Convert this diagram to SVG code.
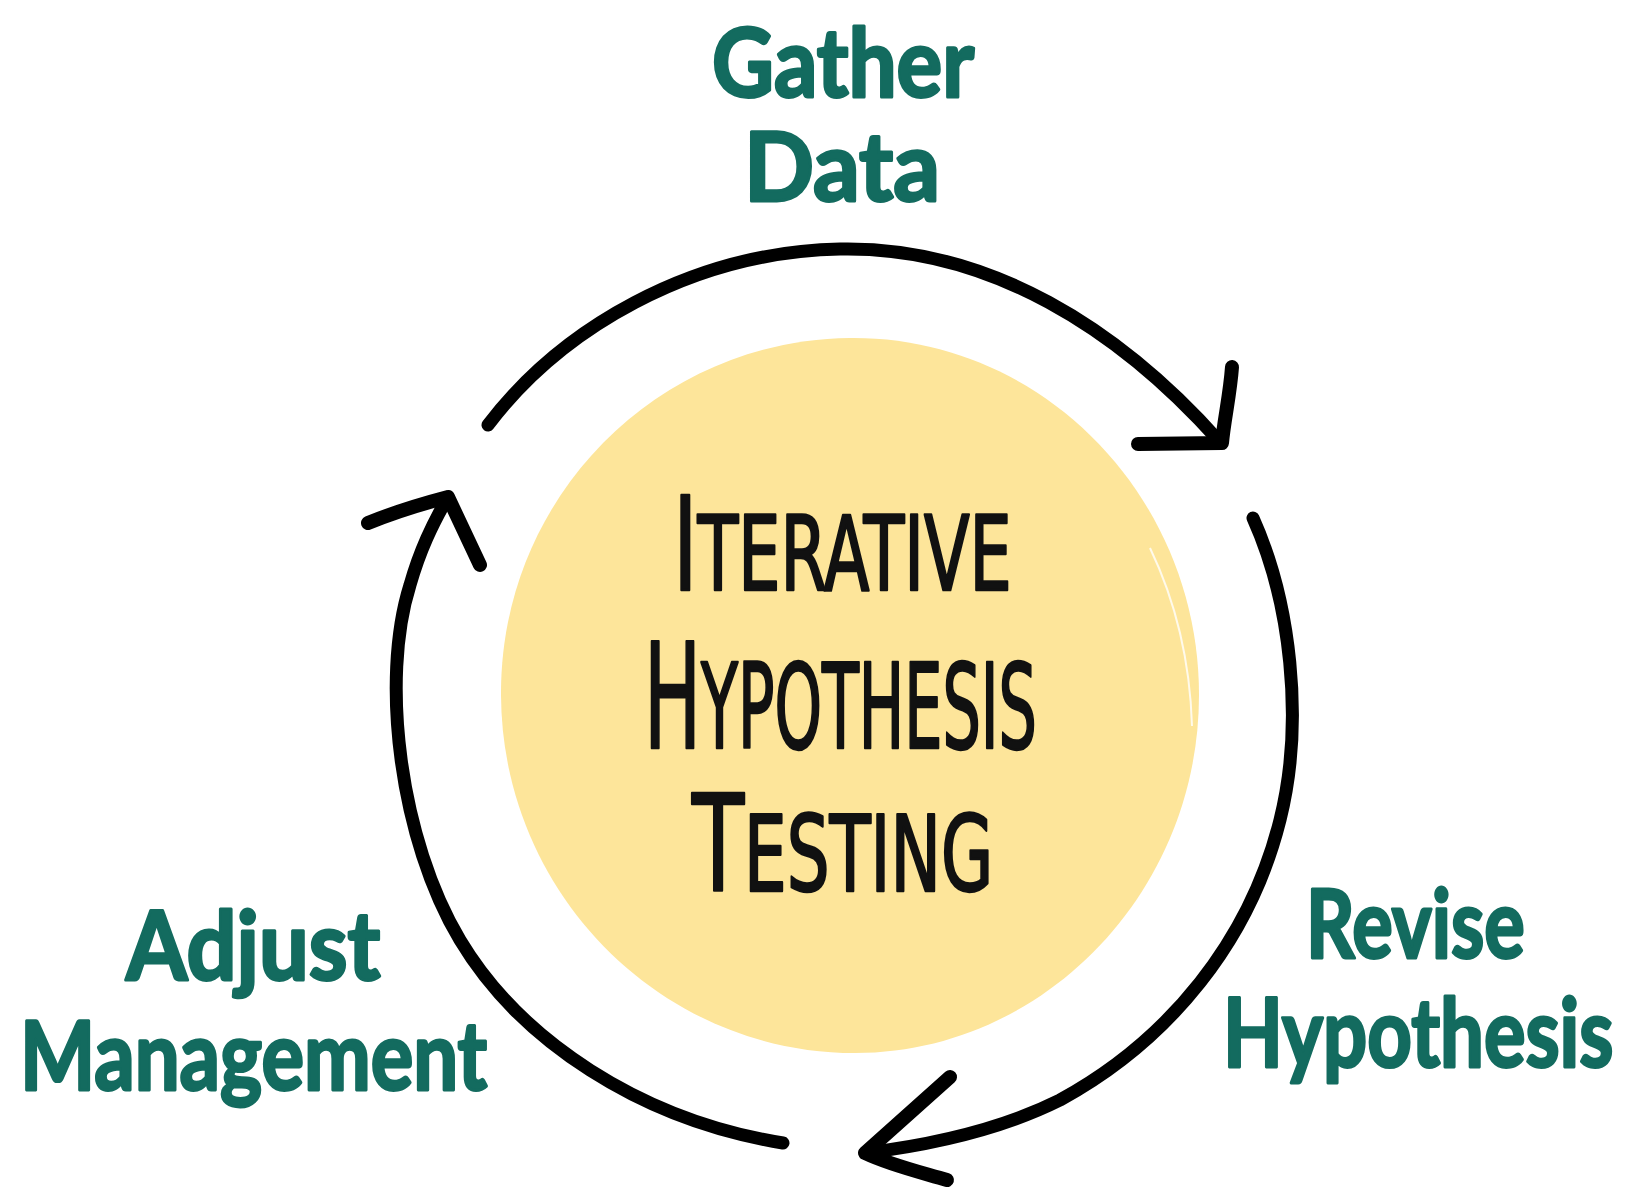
<svg xmlns="http://www.w3.org/2000/svg" width="1627" height="1191" viewBox="0 0 1627 1191">
  <style>
    .label { font-family: "Lato", "Open Sans", "Liberation Sans", sans-serif; font-weight: 700; font-size: 96px; fill: #136b5f; stroke: #136b5f; stroke-width: 3; stroke-linejoin: round; }
    .title { font-family: "DejaVu Sans Condensed", "DejaVu Sans", "Liberation Sans", sans-serif; font-stretch: condensed; fill: #111; stroke: #111; stroke-width: 2.5; stroke-linejoin: round; }
    .arc { fill: none; stroke: #000; stroke-width: 13; stroke-linecap: round; stroke-linejoin: round; }
    .head { fill: none; stroke: #000; stroke-width: 14; stroke-linecap: round; stroke-linejoin: round; }
  </style>

  <rect width="1627" height="1191" fill="#fff"/>

  <!-- central hub: painted yellow disc with the title -->
  <g id="hub">
    <path d="M 850,338 C 1043,336 1199,498 1199,695 C 1199,892 1043,1053 855,1053 C 660,1053 502,892 501,695 C 500,498 657,340 850,338 Z" fill="#fde59a"/>
    <path d="M 1150,548 C 1175,600 1190,660 1192,726" fill="none" stroke="#fff" stroke-width="2" opacity="0.8"/>
    <text class="title" transform="translate(673,590) scale(0.713,1)" font-size="104"><tspan font-size="130">I</tspan>TERATIVE</text>
    <text class="title" transform="translate(644,748) scale(0.574,1)" font-size="117"><tspan font-size="147">H</tspan>YPOTHESIS</text>
    <text class="title" transform="translate(692,891) scale(0.707,1)" font-size="106"><tspan font-size="134">T</tspan>ESTING</text>
  </g>

  <!-- step labels (horizontally condensed) -->
  <g id="gather-data">
    <text class="label" transform="translate(712,97) scale(0.89,1)">Gather</text>
    <text class="label" transform="translate(744,201) scale(0.96,1)">Data</text>
  </g>
  <g id="revise-hypothesis">
    <text class="label" transform="translate(1306,958) scale(0.79,1)">Revise</text>
    <text class="label" transform="translate(1223,1067) scale(0.81,1)">Hypothesis</text>
  </g>
  <g id="adjust-management">
    <text class="label" transform="translate(126,980) scale(0.92,1)">Adjust</text>
    <text class="label" transform="translate(20,1090) scale(0.83,1)">Management</text>
  </g>

  <!-- cycle arrows, clockwise -->
  <g id="connectors">
    <path class="arc" d="M 488,425 C 560,330 690,252 840,249 C 990,246 1120,330 1219,441"/>
    <path class="head" d="M 1232,367 C 1230,395 1224,420 1222,443 L 1138,444"/>

    <path class="arc" d="M 1253,518 C 1290,600 1305,720 1280,820 C 1250,940 1170,1040 1060,1100 C 1000,1130 930,1145 865,1153"/>
    <path class="head" d="M 950,1077 L 865,1153 C 890,1165 920,1172 947,1180"/>

    <path class="arc" d="M 783,1143 C 640,1120 520,1040 460,940 C 400,840 380,680 410,585 C 420,550 432,525 448,497"/>
    <path class="head" d="M 368,523 C 395,512 425,503 448,497 L 480,565"/>
  </g>
</svg>
